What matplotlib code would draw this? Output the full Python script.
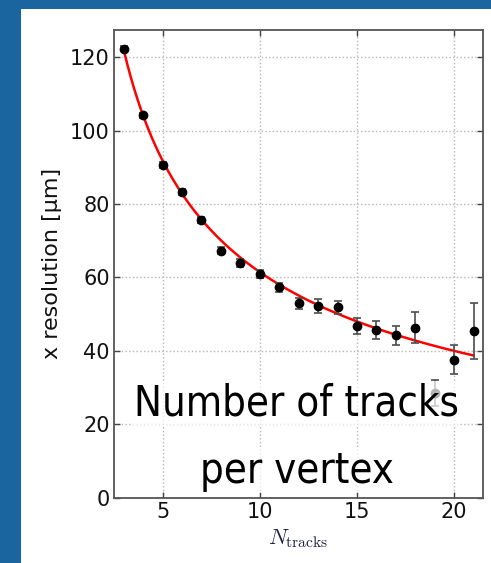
import numpy as np
import matplotlib
matplotlib.use("Agg")
import matplotlib.pyplot as plt
from matplotlib.patches import Rectangle

# data
n_tracks = [3, 4, 5, 6, 7, 8, 9, 10, 11, 12, 13, 14, 15, 16, 17, 18, 19, 20, 21]
resolution = [122.3, 104.2, 90.5, 83.2, 75.6, 67.3, 63.9, 60.9, 57.3, 53.0,
              52.2, 51.8, 46.8, 45.6, 44.2, 46.3, 28.4, 37.6, 45.4]
res_err = [0.7, 0.7, 0.8, 0.8, 0.9, 0.9, 1.0, 1.0, 1.2, 1.5,
           1.8, 1.8, 2.2, 2.5, 2.6, 4.3, 3.5, 3.9, 7.6]
# fit parameters: sigma = a / sqrt(N) + b
fit_a = 231.9
fit_b = -11.9
x_ticks = [5, 10, 15, 20]
y_ticks = [0, 20, 40, 60, 80, 100, 120]

plt.rcParams['mathtext.fontset'] = 'cm'
fig = plt.figure(figsize=(4.91, 5.63), dpi=100)
fig.patch.set_facecolor('#1a64a0')
fig.patches.append(Rectangle((21/491, 0), 1, 1 - 9/563, transform=fig.transFigure,
                             facecolor='white', edgecolor='none', zorder=-10))

ax = fig.add_axes([114/491, 1 - 497.5/563, (483.3 - 114)/491, (497.5 - 30)/563])

ax.grid(True, color='#b5b5b5', linestyle=':', linewidth=1.0)
ax.set_axisbelow(True)

xf = np.linspace(min(n_tracks), max(n_tracks), 200)
ax.plot(xf, fit_a / np.sqrt(xf) + fit_b, color='red', lw=1.8, zorder=3)
ax.errorbar(n_tracks, resolution, yerr=res_err, fmt='o', color='black',
            ecolor='0.3', elinewidth=1.2, capsize=3, capthick=1.2,
            markersize=6, zorder=4)

ax.set_xlim(2.5, 21.5)
ax.set_ylim(0, 127.4)
ax.set_xticks(x_ticks)
ax.set_yticks(y_ticks)
ax.tick_params(direction='in', length=4, width=1, top=True, right=True,
               labelsize=15, colors='#444444', labelcolor='#111111', pad=3)
for s in ax.spines.values():
    s.set_color('#555555')
    s.set_linewidth(1.3)

ax.set_xlabel(r'$N_{\rm tracks}$', fontsize=16, labelpad=4, color='#222244')
ax.set_ylabel('x resolution [μm]', fontsize=16, labelpad=6, color='#111111')

box = dict(facecolor='white', alpha=0.7, edgecolor='none', pad=1)
fig.text(296.5/491, 1 - 415/563, 'Number of tracks', ha='center', va='baseline',
         fontsize=30, family='DejaVu Sans', fontstretch='condensed', bbox=box, zorder=10)
fig.text(296.5/491, 1 - 483/563, 'per vertex', ha='center', va='baseline',
         fontsize=30, family='DejaVu Sans', fontstretch='condensed', bbox=box, zorder=10)

fig.savefig('out.png', dpi=100, facecolor=fig.get_facecolor())
